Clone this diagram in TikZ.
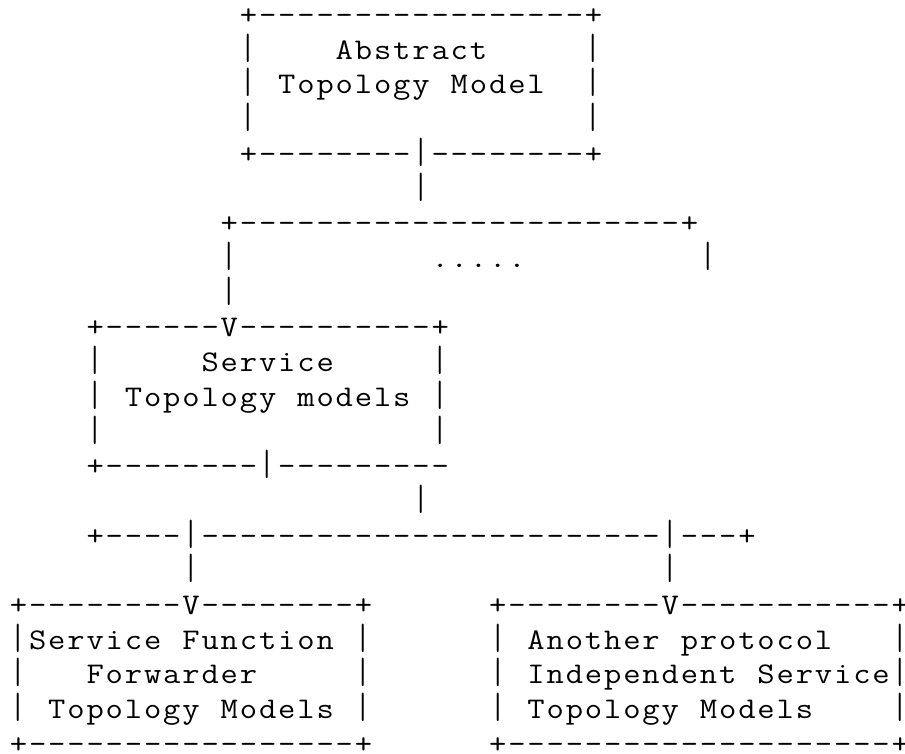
\documentclass[tikz,border=0pt]{standalone}
\usepackage{graphicx}
\newlength\cw
\setlength\cw{9.585pt}
% set each character in its own fixed-width cell (monospaced grid)
\def\cellrow#1{\cellaux#1\relax}
\def\cellaux#1{\ifx\relax#1\else\cellchar{#1}\expandafter\cellaux\fi}
\def\cellchar#1{\makebox[\cw]{\ifx|#1\scalebox{1}[1.22]{|}\else\scalebox{1.12}[1]{#1}\fi}}
\tikzset{asciirow/.style={anchor=base west, inner sep=0pt, outer sep=0pt,
  font=\ttfamily\fontsize{15}{18}\selectfont}}
% \R{row}{start column}{characters}
\newcommand\R[3]{\node[asciirow] (r#1) at ({4.45pt+#2\cw},{-12.3pt-(#1-1)*17.35pt}) {\cellrow{#3}};}
\begin{document}
\begin{tikzpicture}
\useasboundingbox (0,0) rectangle (452.5pt,-377pt);
\R{1}{12}{+-----------------+}
\R{2}{12}{|~~~~Abstract~~~~~|}
\R{3}{12}{|~Topology~Model~~|}
\R{4}{12}{|~~~~~~~~~~~~~~~~~|}
\R{5}{12}{+--------|--------+}
\R{6}{21}{|}
\R{7}{11}{+-----------------------+}
\R{8}{11}{|~~~~~~~~~~.....~~~~~~~~~|}
\R{9}{11}{|}
\R{10}{4}{+------V----------+}
\R{11}{4}{|~~~~~Service~~~~~|}
\R{12}{4}{|~Topology~models~|}
\R{13}{4}{|~~~~~~~~~~~~~~~~~|}
\R{14}{4}{+--------|---------}
\R{15}{21}{|}
\R{16}{4}{+----|------------------------|---+}
\R{17}{9}{|~~~~~~~~~~~~~~~~~~~~~~~~|}
\R{18}{0}{+--------V--------+~~~~~~+--------V-----------+}
\R{19}{0}{|Service~Function~|~~~~~~|~Another~protocol~~~|}
\R{20}{0}{|~~~Forwarder~~~~~|~~~~~~|~Independent~Service|}
\R{21}{0}{|~Topology~Models~|~~~~~~|~Topology~Models~~~~|}
\R{22}{0}{+-----------------+~~~~~~+--------------------+}
\end{tikzpicture}
\end{document}
